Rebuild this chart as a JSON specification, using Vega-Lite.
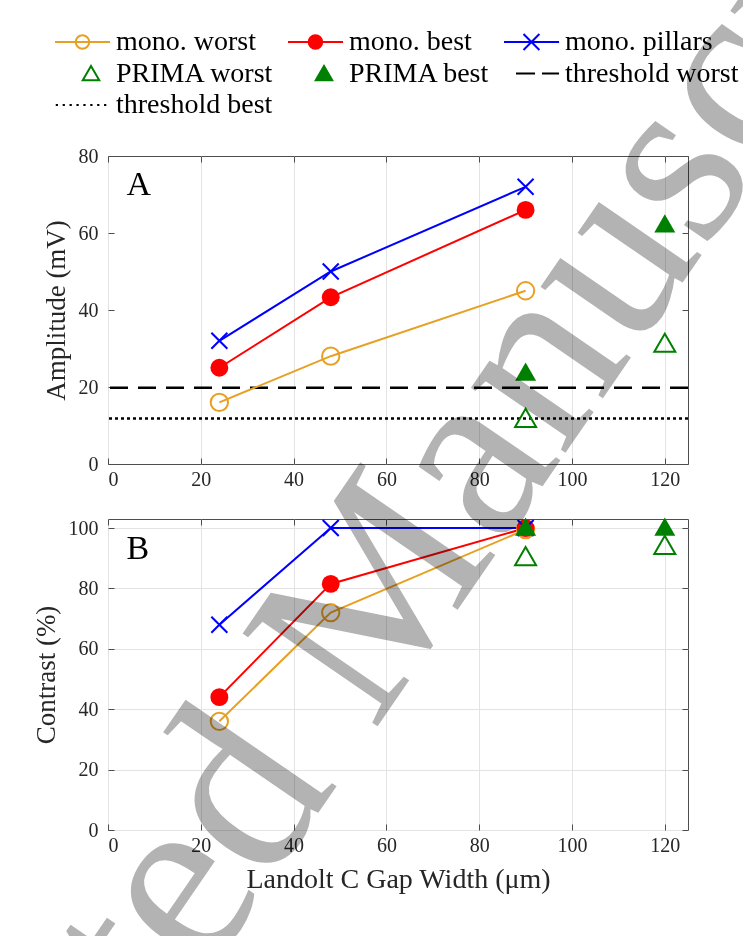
{
  "$schema": "https://vega.github.io/schema/vega-lite/v6.json",
  "autosize": {"type": "none"},
  "params": [{"name": "width", "value": 580}, {"name": "height", "value": 674}],
  "padding": {"left": 108, "top": 156, "right": 55, "bottom": 106},
  "background": "white",
  "bounds": "flush",
  "spacing": 55,
  "config": {
    "font": "Liberation Serif",
    "view": {"stroke": "#4d4d4d", "strokeWidth": 1},
    "axis": {
      "labelFont": "Liberation Serif", "labelFontSize": 20, "labelColor": "#262626",
      "titleFont": "Liberation Serif", "titleFontSize": 27, "titleFontWeight": "normal", "titleColor": "#262626",
      "gridColor": "#e3e3e3", "gridWidth": 1, "domain": false,
      "tickColor": "#4d4d4d", "tickSize": -6, "titlePadding": 8
    },
    "axisX": {"labelPadding": 11},
    "axisY": {"labelPadding": 16, "titlePadding": 8},
    "legend": {
      "orient": "none", "legendX": -54, "legendY": -130, "columns": 3, "direction": "horizontal",
      "labelFont": "Liberation Serif", "labelFontSize": 28, "labelColor": "#000000", "labelLimit": 400,
      "symbolSize": 900, "symbolStrokeWidth": 2, "symbolOpacity": 1, "labelOffset": 30,
      "columnPadding": 10, "rowPadding": 1.5, "padding": 0
    }
  },
  "datasets": {
    "pts": [
      {"panel": "A", "series": "mono. worst", "x": 24, "y": 16},
      {"panel": "A", "series": "mono. worst", "x": 48, "y": 28},
      {"panel": "A", "series": "mono. worst", "x": 90, "y": 45},
      {"panel": "A", "series": "mono. best", "x": 24, "y": 25},
      {"panel": "A", "series": "mono. best", "x": 48, "y": 43.3},
      {"panel": "A", "series": "mono. best", "x": 90, "y": 66},
      {"panel": "A", "series": "mono. pillars", "x": 24, "y": 32},
      {"panel": "A", "series": "mono. pillars", "x": 48, "y": 50},
      {"panel": "A", "series": "mono. pillars", "x": 90, "y": 72},
      {"panel": "A", "series": "PRIMA worst", "x": 90, "y": 12},
      {"panel": "A", "series": "PRIMA worst", "x": 120, "y": 31.5},
      {"panel": "A", "series": "PRIMA best", "x": 90, "y": 24},
      {"panel": "A", "series": "PRIMA best", "x": 120, "y": 62.5},
      {"panel": "A", "series": "threshold worst", "y": 19.8},
      {"panel": "A", "series": "threshold best", "y": 11.8},
      {"panel": "B", "series": "mono. worst", "x": 24, "y": 36},
      {"panel": "B", "series": "mono. worst", "x": 48, "y": 72},
      {"panel": "B", "series": "mono. worst", "x": 90, "y": 99.5},
      {"panel": "B", "series": "mono. best", "x": 24, "y": 44},
      {"panel": "B", "series": "mono. best", "x": 48, "y": 81.5},
      {"panel": "B", "series": "mono. best", "x": 90, "y": 100},
      {"panel": "B", "series": "mono. pillars", "x": 24, "y": 68},
      {"panel": "B", "series": "mono. pillars", "x": 48, "y": 100},
      {"panel": "B", "series": "mono. pillars", "x": 90, "y": 100},
      {"panel": "B", "series": "PRIMA worst", "x": 90, "y": 90.7},
      {"panel": "B", "series": "PRIMA worst", "x": 120, "y": 94.4},
      {"panel": "B", "series": "PRIMA best", "x": 90, "y": 100.5},
      {"panel": "B", "series": "PRIMA best", "x": 120, "y": 100.5}
    ]
  },
  "vconcat": [
    {
      "width": 580, "height": 308,
      "data": {"name": "pts"},
      "transform": [{"filter": "datum.panel == 'A'"}],
      "resolve": {"axis": {"x": "independent", "y": "independent"}},
      "layer": [
        {
          "transform": [{"filter": "datum.series == 'threshold worst'"}],
          "mark": {"type": "rule", "color": "#000000", "strokeWidth": 2.5, "strokeDash": [18, 10]},
          "encoding": {"y": {"field": "y", "type": "quantitative", "scale": {"domain": [0, 80], "nice": false}, "axis": null}}
        },
        {
          "transform": [{"filter": "datum.series == 'threshold best'"}],
          "mark": {"type": "rule", "color": "#000000", "strokeWidth": 2.5, "strokeDash": [3, 3]},
          "encoding": {"y": {"field": "y", "type": "quantitative", "axis": null}}
        },
        {
          "transform": [{"filter": "indexof(datum.series, 'mono') == 0"}],
          "mark": {"type": "line", "strokeWidth": 2},
          "encoding": {
            "x": {"field": "x", "type": "quantitative", "scale": {"domain": [0, 125], "nice": false}, "axis": {"values": [0, 20, 40, 60, 80, 100, 120], "title": null}},
            "y": {"field": "y", "type": "quantitative", "axis": {"values": [0, 20, 40, 60, 80], "title": "Amplitude (mV)"}},
            "color": {"field": "series", "type": "nominal", "scale": {"domain": ["mono. worst", "mono. best", "mono. pillars"], "range": ["#E8A023", "#FF0000", "#0000FF"]}, "legend": null}
          }
        },
        {
          "transform": [{"filter": "datum.series == 'mono. worst'"}],
          "mark": {"type": "point", "shape": "circle", "filled": false, "size": 300, "strokeWidth": 2, "color": "#E8A023", "opacity": 1},
          "encoding": {"x": {"field": "x", "type": "quantitative", "axis": null}, "y": {"field": "y", "type": "quantitative", "axis": null}}
        },
        {
          "transform": [{"filter": "datum.series == 'mono. best'"}],
          "mark": {"type": "point", "shape": "circle", "filled": true, "size": 320, "color": "#FF0000", "opacity": 1},
          "encoding": {"x": {"field": "x", "type": "quantitative", "axis": null}, "y": {"field": "y", "type": "quantitative", "axis": null}}
        },
        {
          "transform": [{"filter": "datum.series == 'mono. pillars'"}],
          "mark": {"type": "point", "shape": "M-1,-1L1,1M-1,1L1,-1", "filled": false, "size": 256, "strokeWidth": 2, "color": "#0000FF", "opacity": 1},
          "encoding": {"x": {"field": "x", "type": "quantitative", "axis": null}, "y": {"field": "y", "type": "quantitative", "axis": null}}
        },
        {
          "transform": [{"filter": "datum.series == 'PRIMA worst'"}],
          "mark": {"type": "point", "shape": "triangle-up", "filled": false, "size": 441, "strokeWidth": 2, "color": "#008000", "opacity": 1},
          "encoding": {
            "x": {"field": "x", "type": "quantitative", "axis": {"orient": "top", "values": [0, 20, 40, 60, 80, 100, 120], "labels": false, "grid": false, "title": null}},
            "y": {"field": "y", "type": "quantitative", "axis": {"orient": "right", "values": [0, 20, 40, 60, 80], "labels": false, "grid": false, "title": null}}
          }
        },
        {
          "transform": [{"filter": "datum.series == 'PRIMA best'"}],
          "mark": {"type": "point", "shape": "triangle-up", "filled": true, "size": 441, "color": "#008000", "opacity": 1},
          "encoding": {"x": {"field": "x", "type": "quantitative", "axis": null}, "y": {"field": "y", "type": "quantitative", "axis": null}}
        },
        {
          "data": {"values": [{"label": "A"}]},
          "mark": {"type": "text", "font": "Liberation Serif", "fontSize": 34, "align": "left", "baseline": "middle", "color": "#000000"},
          "encoding": {"text": {"field": "label"}, "x": {"datum": 4, "type": "quantitative", "axis": null}, "y": {"datum": 72.5, "type": "quantitative", "axis": null}}
        },
        {
          "transform": [{"filter": "false"}],
          "mark": {"type": "point"},
          "encoding": {
            "x": {"field": "x", "type": "quantitative", "axis": null},
            "y": {"field": "y", "type": "quantitative", "axis": null},
            "stroke": {"field": "series", "type": "nominal", "title": null,
              "scale": {"domain": ["mono. worst", "mono. best", "mono. pillars", "PRIMA worst", "PRIMA best", "threshold worst", "threshold best"],
                        "range": ["#E8A023", "#FF0000", "#0000FF", "#008000", "#008000", "#000000", "#000000"]}},
            "fill": {"field": "series", "type": "nominal", "title": null,
              "scale": {"domain": ["mono. worst", "mono. best", "mono. pillars", "PRIMA worst", "PRIMA best", "threshold worst", "threshold best"],
                        "range": ["transparent", "#FF0000", "transparent", "transparent", "#008000", "transparent", "transparent"]}},
            "shape": {"field": "series", "type": "nominal", "title": null,
              "scale": {"domain": ["mono. worst", "mono. best", "mono. pillars", "PRIMA worst", "PRIMA best", "threshold worst", "threshold best"],
                        "range": [
                          "M-1,0L2.67,0M0.38,0A0.45,0.45,0,1,1,1.28,0A0.45,0.45,0,1,1,0.38,0",
                          "M-1,0L2.67,0M0.38,0A0.45,0.45,0,1,1,1.28,0A0.45,0.45,0,1,1,0.38,0",
                          "M-1,0L2.67,0M0.3,-0.53L1.36,0.53M0.3,0.53L1.36,-0.53",
                          "M1.4,-0.5L1.95,0.45L0.85,0.45Z",
                          "M1.4,-0.5L1.95,0.45L0.85,0.45Z",
                          "M-0.2,0L1.07,0M1.53,0L2.67,0",
                          "M-0.95,0L-0.8,0M-0.49,0L-0.34,0M-0.03,0L0.12,0M0.43,0L0.58,0M0.89,0L1.04,0M1.35,0L1.5,0M1.81,0L1.96,0M2.27,0L2.42,0"
                        ]}}
          }
        }
      ]
    },
    {
      "width": 580, "height": 311,
      "data": {"name": "pts"},
      "transform": [{"filter": "datum.panel == 'B'"}],
      "resolve": {"axis": {"x": "independent", "y": "independent"}},
      "layer": [
        {
          "transform": [{"filter": "indexof(datum.series, 'mono') == 0"}],
          "mark": {"type": "line", "strokeWidth": 2},
          "encoding": {
            "x": {"field": "x", "type": "quantitative", "scale": {"domain": [0, 125], "nice": false}, "axis": {"values": [0, 20, 40, 60, 80, 100, 120], "title": "Landolt C Gap Width (μm)", "titleFontSize": 28, "titlePadding": 10}},
            "y": {"field": "y", "type": "quantitative", "scale": {"domain": [0, 103], "nice": false}, "axis": {"values": [0, 20, 40, 60, 80, 100], "title": "Contrast (%)"}},
            "color": {"field": "series", "type": "nominal", "scale": {"domain": ["mono. worst", "mono. best", "mono. pillars"], "range": ["#E8A023", "#FF0000", "#0000FF"]}, "legend": null}
          }
        },
        {
          "transform": [{"filter": "datum.series == 'mono. worst'"}],
          "mark": {"type": "point", "shape": "circle", "filled": false, "size": 300, "strokeWidth": 2, "color": "#E8A023", "opacity": 1},
          "encoding": {"x": {"field": "x", "type": "quantitative", "axis": null}, "y": {"field": "y", "type": "quantitative", "axis": null}}
        },
        {
          "transform": [{"filter": "datum.series == 'mono. best'"}],
          "mark": {"type": "point", "shape": "circle", "filled": true, "size": 320, "color": "#FF0000", "opacity": 1},
          "encoding": {"x": {"field": "x", "type": "quantitative", "axis": null}, "y": {"field": "y", "type": "quantitative", "axis": null}}
        },
        {
          "transform": [{"filter": "datum.series == 'mono. pillars'"}],
          "mark": {"type": "point", "shape": "M-1,-1L1,1M-1,1L1,-1", "filled": false, "size": 256, "strokeWidth": 2, "color": "#0000FF", "opacity": 1},
          "encoding": {"x": {"field": "x", "type": "quantitative", "axis": null}, "y": {"field": "y", "type": "quantitative", "axis": null}}
        },
        {
          "transform": [{"filter": "datum.series == 'PRIMA worst'"}],
          "mark": {"type": "point", "shape": "triangle-up", "filled": false, "size": 441, "strokeWidth": 2, "color": "#008000", "opacity": 1},
          "encoding": {
            "x": {"field": "x", "type": "quantitative", "axis": {"orient": "top", "values": [0, 20, 40, 60, 80, 100, 120], "labels": false, "grid": false, "title": null}},
            "y": {"field": "y", "type": "quantitative", "axis": {"orient": "right", "values": [0, 20, 40, 60, 80, 100], "labels": false, "grid": false, "title": null}}
          }
        },
        {
          "transform": [{"filter": "datum.series == 'PRIMA best'"}],
          "mark": {"type": "point", "shape": "triangle-up", "filled": true, "size": 441, "color": "#008000", "opacity": 1},
          "encoding": {"x": {"field": "x", "type": "quantitative", "axis": null}, "y": {"field": "y", "type": "quantitative", "axis": null}}
        },
        {
          "data": {"values": [{"label": "B"}]},
          "mark": {"type": "text", "font": "Liberation Serif", "fontSize": 34, "align": "left", "baseline": "middle", "color": "#000000"},
          "encoding": {"text": {"field": "label"}, "x": {"datum": 4, "type": "quantitative", "axis": null}, "y": {"datum": 93, "type": "quantitative", "axis": null}}
        },
        {
          "data": {"values": [{"label": "Accepted Manuscript"}]},
          "mark": {"type": "text", "font": "Liberation Serif", "fontSize": 250, "align": "center", "baseline": "middle", "angle": -55.5, "fill": "#b3b3b3", "blend": "multiply"},
          "encoding": {"text": {"field": "label"}, "x": {"datum": 52, "type": "quantitative", "axis": null}, "y": {"datum": 64.5, "type": "quantitative", "axis": null}}
        }
      ]
    }
  ]
}
